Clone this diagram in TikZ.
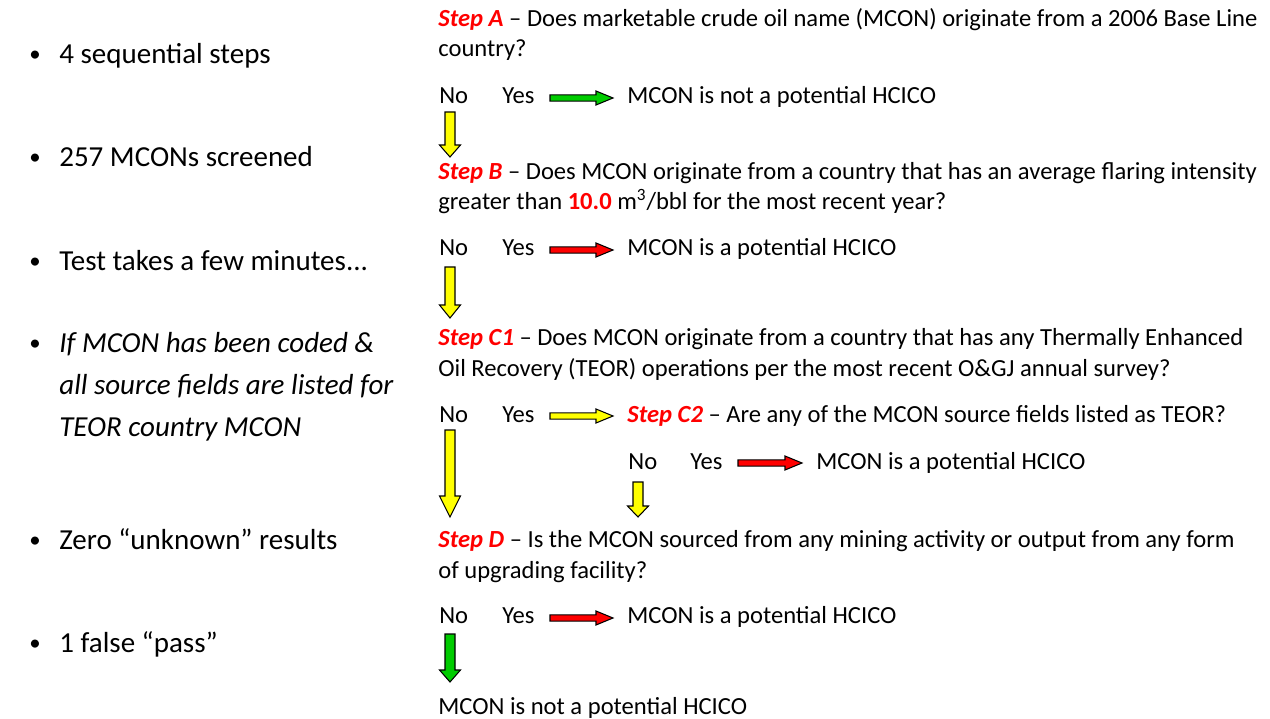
\documentclass[tikz,border=0pt]{standalone}
\usepackage{fontspec}
\setmainfont{Carlito}
\usetikzlibrary{calc}
\definecolor{rojo}{HTML}{FF0000}
\definecolor{verde}{HTML}{00CC00}
\definecolor{amarillo}{HTML}{FFFF00}
\newcommand{\etiquetaPaso}[1]{\textcolor{rojo}{\bfseries\itshape #1}}
\tikzset{
  texto/.style={anchor=base west, inner sep=0pt,
    font=\fontsize{14pt}{17.6pt}\selectfont},
  pregunta/.style={texto, align=left},
  vineta/.style={anchor=base west, inner sep=0pt, align=left,
    font=\fontsize{16.5pt}{23.8pt}\selectfont},
  punto/.style={anchor=base, inner sep=0pt,
    font=\fontsize{13pt}{16pt}\selectfont},
  cabeza/.store in=\largoCabeza, cabeza=12,
  bloque/.style={draw=black, line width=0.6pt, line join=miter},
  flechaAbajo/.style={bloque, to path={
    ($(\tikztostart)+(-5,0)$) -- ($(\tikztostart)+(5,0)$)
    -- ($(\tikztotarget)+(5,-\largoCabeza)$) -- ($(\tikztotarget)+(10.5,-\largoCabeza)$)
    -- (\tikztotarget) -- ($(\tikztotarget)+(-10.5,-\largoCabeza)$)
    -- ($(\tikztotarget)+(-5,-\largoCabeza)$) -- cycle}},
  flechaDerecha/.style={bloque, to path={
    ($(\tikztostart)+(0,-3.2)$) -- ($(\tikztotarget)+(-17,-3.2)$)
    -- ($(\tikztotarget)+(-17,-7)$) -- (\tikztotarget)
    -- ($(\tikztotarget)+(-17,7)$) -- ($(\tikztotarget)+(-17,3.2)$)
    -- ($(\tikztostart)+(0,3.2)$) -- cycle}},
}

\begin{document}
\begin{tikzpicture}[x=0.02cm, y=-0.02cm]
  \useasboundingbox (0,0) rectangle (1270,719);

  % resumen a la izquierda (nodos de varias lineas: base en la ultima linea)
  \foreach \yy in {62,165,269,350,547,650}
    \node[punto] at (35,\yy) {\textbullet};
  \node[vineta] (pasos) at (59,64) {4 sequential steps};
  \node[vineta] (cribados) at (59,167) {257 MCONs screened};
  \node[vineta] (minutos) at (59,271) {Test takes a few minutes...};
  \node[vineta, font=\fontsize{16.5pt}{23.8pt}\selectfont\itshape] (codificado) at (59,436)
    {If MCON has been coded \&\\all source fields are listed for\\TEOR country MCON};
  \node[vineta] (desconocidos) at (59,549) {Zero “unknown” results};
  \node[vineta] (falso) at (59,652) {1 false “pass”};

  % paso A
  \node[pregunta] (pasoA) at (438,57) {\etiquetaPaso{Step A} -- Does marketable crude oil name (MCON) originate from a 2006 Base Line\\country?};
  \node[texto] (noA) at (439,104) {No};
  \node[texto] (siA) at (502,104) {Yes};
  \node[texto] (resA) at (627,104) {MCON is not a potential HCICO};

  % paso B
  \node[pregunta] (pasoB) at (438,210) {\etiquetaPaso{Step B} -- Does MCON originate from a country that has an average flaring intensity\\greater than \textcolor{rojo}{\bfseries 10.0} m\textsuperscript{3}/bbl for the most recent year?};
  \node[texto] (noB) at (439,256) {No};
  \node[texto] (siB) at (502,256) {Yes};
  \node[texto] (resB) at (627,256) {MCON is a potential HCICO};

  % paso C1
  \node[pregunta] (pasoC1) at (438,376) {\etiquetaPaso{Step C1} -- Does MCON originate from a country that has any Thermally Enhanced\\Oil Recovery (TEOR) operations per the most recent O\&GJ annual survey?};
  \node[texto] (noC1) at (439,422) {No};
  \node[texto] (siC1) at (502,422) {Yes};
  \node[texto] (pasoC2) at (627,422) {\etiquetaPaso{Step C2} -- Are any of the MCON source fields listed as TEOR?};

  % paso C2
  \node[texto] (noC2) at (628,469) {No};
  \node[texto] (siC2) at (690,469) {Yes};
  \node[texto] (resC2) at (816,469) {MCON is a potential HCICO};

  % paso D
  \node[pregunta] (pasoD) at (438,578) {\etiquetaPaso{Step D} -- Is the MCON sourced from any mining activity or output from any form\\of upgrading facility?};
  \node[texto] (noD) at (439,623) {No};
  \node[texto] (siD) at (502,623) {Yes};
  \node[texto] (resD) at (627,623) {MCON is a potential HCICO};
  \node[texto] (final) at (438,714) {MCON is not a potential HCICO};

  % extremos de las flechas de bloque
  \coordinate (aIni) at (450,112);  \coordinate (aFin) at (450,157);
  \coordinate (bIni) at (450,267);  \coordinate (bFin) at (450,318);
  \coordinate (c1Ini) at (450,430); \coordinate (c1Fin) at (450,517);
  \coordinate (c2Ini) at (638,482); \coordinate (c2Fin) at (638,517);
  \coordinate (dIni) at (450,634);  \coordinate (dFin) at (450,682);
  \coordinate (siAIni) at (550,98);   \coordinate (siAFin) at (613,98);
  \coordinate (siBIni) at (550,250);  \coordinate (siBFin) at (613,250);
  \coordinate (siC1Ini) at (550,416); \coordinate (siC1Fin) at (613,416);
  \coordinate (siC2Ini) at (738,463); \coordinate (siC2Fin) at (802,463);
  \coordinate (siDIni) at (550,618);  \coordinate (siDFin) at (613,618);

  \draw[flechaAbajo, fill=amarillo] (aIni) to (aFin);
  \draw[flechaAbajo, fill=amarillo, cabeza=13] (bIni) to (bFin);
  \draw[flechaAbajo, fill=amarillo, cabeza=21] (c1Ini) to (c1Fin);
  \draw[flechaAbajo, fill=amarillo, cabeza=11] (c2Ini) to (c2Fin);
  \draw[flechaAbajo, fill=verde] (dIni) to (dFin);
  \draw[flechaDerecha, fill=verde] (siAIni) to (siAFin);
  \draw[flechaDerecha, fill=rojo] (siBIni) to (siBFin);
  \draw[flechaDerecha, fill=amarillo] (siC1Ini) to (siC1Fin);
  \draw[flechaDerecha, fill=rojo] (siC2Ini) to (siC2Fin);
  \draw[flechaDerecha, fill=rojo] (siDIni) to (siDFin);
\end{tikzpicture}
\end{document}
